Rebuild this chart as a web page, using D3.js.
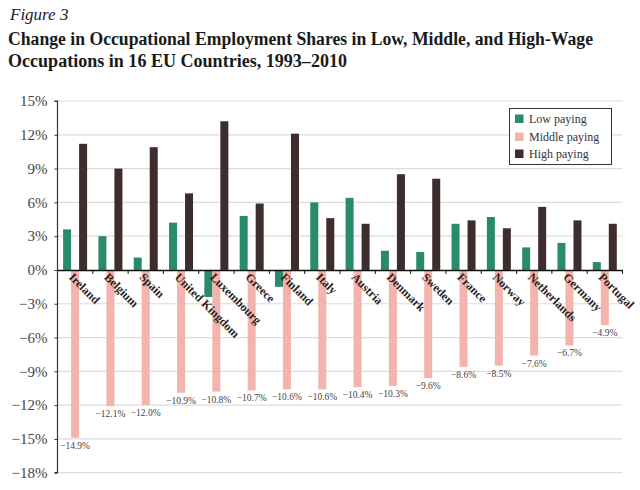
<!DOCTYPE html>
<html>
<head>
<meta charset="utf-8">
<script src="https://cdn.jsdelivr.net/npm/d3@7/dist/d3.min.js"></script>
<style>
  html, body { margin: 0; padding: 0; background: #fff; }
  svg { display: block; }
</style>
</head>
<body>
<svg id="chart" width="640" height="490"></svg>
<script>
const countries = ["Ireland","Belgium","Spain","United Kingdom","Luxembourg","Greece","Finland","Italy","Austria","Denmark","Sweden","France","Norway","Netherlands","Germany","Portugal"];
const lowPaying = [3.6, 3.0, 1.1, 4.2, -2.4, 4.8, -1.5, 6.0, 6.4, 1.7, 1.6, 4.1, 4.7, 2.0, 2.4, 0.7];
const middlePaying = [-14.9, -12.1, -12.0, -10.9, -10.8, -10.7, -10.6, -10.6, -10.4, -10.3, -9.6, -8.6, -8.5, -7.6, -6.7, -4.9];
const highPaying = [11.2, 9.0, 10.9, 6.8, 13.2, 5.9, 12.1, 4.6, 4.1, 8.5, 8.1, 4.4, 3.7, 5.6, 4.4, 4.1];
const seriesNames = ["Low paying", "Middle paying", "High paying"];
const yTicks = [-18, -15, -12, -9, -6, -3, 0, 3, 6, 9, 12, 15];

const colors = {"Low paying": "#2a8a6c", "Middle paying": "#f2b4ac", "High paying": "#3e2d2d"};
const serif = "'Liberation Serif', 'DejaVu Serif', serif";

const svg = d3.select("#chart");

const plotLeft = 57.5, plotRight = 622.5, plotTop = 101, plotBottom = 472.7;

const x = d3.scaleBand().domain(countries).range([plotLeft, plotRight]).padding(0);
const xInner = d3.scaleBand().domain(seriesNames).range([5.6, 29.6]).padding(0);
const y = d3.scaleLinear().domain([-18, 15]).range([plotBottom, plotTop]);

const fmt = v => (v < 0 ? "\u2212" : "") + Math.abs(v) + "%";
const fmt1 = v => (v < 0 ? "\u2212" : "") + Math.abs(v).toFixed(1) + "%";

// Titles
svg.append("text").attr("x", 10).attr("y", 20)
  .attr("font-family", serif).attr("font-style", "italic").attr("font-size", 17)
  .attr("fill", "#222").text("Figure 3");
svg.append("text").attr("x", 8).attr("y", 45)
  .attr("font-family", serif).attr("font-weight", "bold").attr("font-size", 18)
  .attr("fill", "#1a1a1a")
  .attr("textLength", 585).attr("lengthAdjust", "spacingAndGlyphs")
  .text("Change in Occupational Employment Shares in Low, Middle, and High-Wage");
svg.append("text").attr("x", 8).attr("y", 67)
  .attr("font-family", serif).attr("font-weight", "bold").attr("font-size", 18)
  .attr("fill", "#1a1a1a")
  .attr("textLength", 339).attr("lengthAdjust", "spacingAndGlyphs")
  .text("Occupations in 16 EU Countries, 1993\u20132010");

// Gridlines
svg.append("g").selectAll("line").data(yTicks.filter(t => t !== 0)).join("line")
  .attr("x1", plotLeft).attr("x2", plotRight)
  .attr("y1", d => y(d)).attr("y2", d => y(d))
  .attr("stroke", "#dcdcdc").attr("stroke-width", 1.2);

// Y axis
const yAxis = d3.axisLeft(y).tickValues(yTicks).tickSize(3).tickFormat(fmt);
const yg = svg.append("g").attr("transform", `translate(${plotLeft},0)`).call(yAxis);
yg.select(".domain").attr("stroke", "#333").attr("stroke-width", 1.2).attr("d", `M-3,${y(15)}H0V${plotBottom}H-3`);
yg.selectAll(".tick line").attr("stroke", "#333");
yg.selectAll(".tick text").attr("font-family", serif).attr("font-size", 15).attr("fill", "#444").attr("x", -10);

// Bars
const groups = svg.append("g").selectAll("g").data(countries).join("g")
  .attr("transform", d => `translate(${x(d)},0)`);

const rows = countries.map((c, i) => [
  {key: "Low paying", value: lowPaying[i]},
  {key: "Middle paying", value: middlePaying[i]},
  {key: "High paying", value: highPaying[i]}
]);

groups.each(function(c, i) {
  d3.select(this).selectAll("rect").data(rows[i]).join("rect")
    .attr("x", d => xInner(d.key))
    .attr("width", xInner.bandwidth())
    .attr("y", d => y(Math.max(0, d.value)))
    .attr("height", d => Math.abs(y(d.value) - y(0)))
    .attr("fill", d => colors[d.key]);
});

// Middle value labels
svg.append("g").selectAll("text").data(countries).join("text")
  .attr("x", (d, i) => x(d) + xInner("Middle paying") + xInner.bandwidth() / 2)
  .attr("y", (d, i) => y(middlePaying[i]) + 11)
  .attr("text-anchor", "middle")
  .attr("font-family", serif).attr("font-size", 9.5).attr("fill", "#444")
  .text((d, i) => fmt1(middlePaying[i]));

// Zero line with x ticks
const xAxis = d3.axisBottom(x).tickSize(0).tickFormat("");
const xg = svg.append("g").attr("transform", `translate(0,${y(0)})`).call(xAxis);
xg.select(".domain").attr("stroke", "#111").attr("stroke-width", 1.5);
xg.selectAll(".tick").remove();
xg.selectAll(".bnd").data(countries.slice(1).map(c => x(c)).concat([plotRight])).join("line")
  .attr("x1", d => d).attr("x2", d => d).attr("y1", 0).attr("y2", 4)
  .attr("stroke", "#111").attr("stroke-width", 1);

// Category labels
svg.append("g").selectAll("text").data(countries).join("text")
  .attr("transform", d => `translate(${x(d) + xInner("Middle paying") + 3},${y(0) + 2}) rotate(45)`)
  .attr("dy", "0.7em")
  .attr("font-family", serif).attr("font-weight", "bold").attr("font-size", 12)
  .attr("fill", "#2a1f1f")
  .text(d => d);

// Legend
const lg = svg.append("g");
lg.append("rect").attr("x", 509.5).attr("y", 108.5).attr("width", 102).attr("height", 56)
  .attr("fill", "#fff").attr("stroke", "#333").attr("stroke-width", 1);
const ly = [119, 137, 154];
seriesNames.forEach((s, i) => {
  lg.append("rect").attr("x", 515).attr("y", ly[i] - 4.5).attr("width", 8.5).attr("height", 8.5).attr("fill", colors[s]);
  lg.append("text").attr("x", 529).attr("y", ly[i] + 4)
    .attr("font-family", serif).attr("font-size", 12).attr("fill", "#333").text(s);
});
</script>
</body>
</html>
